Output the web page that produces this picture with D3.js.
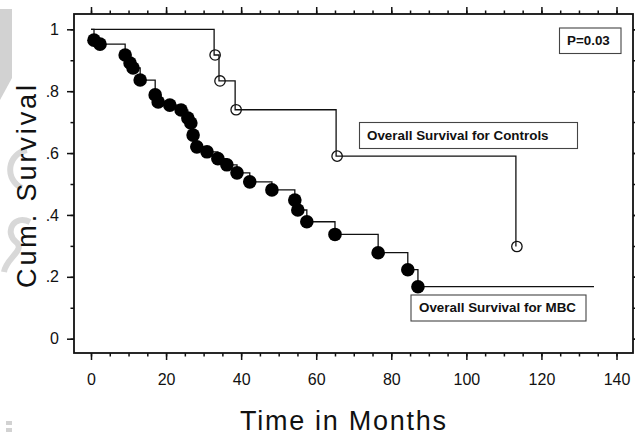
<html>
<head>
<meta charset="utf-8">
<title>Kaplan-Meier survival, MBC vs controls</title>
<script src="https://d3js.org/d3.v7.min.js"></script>
<style>
    body {
        margin: 0;
        padding: 0;
        background: #fff;
    }
    svg text {
        font-family: "Liberation Sans", Arial, Helvetica, sans-serif;
    }
    .tick text {
        font-size: 16px;
        fill: #111;
    }
    .tick line {
        stroke: #111;
        stroke-width: 1.5;
    }
    .note {
        font-weight: bold;
        font-size: 13.4px;
        fill: #111;
    }
</style>
</head>
<body>
<script>
    // event times (months) and cumulative survival
    var mbcTimes = [0.8, 2.4, 9.1, 10.4, 11.2, 13.1, 17.1, 17.9, 21.0, 24.0, 25.8, 26.6, 27.2, 28.2,
                    30.9, 33.8, 36.2, 38.9, 42.3, 48.2, 54.3, 55.1, 57.5, 65.0, 76.5, 84.4, 87.1];
    var mbcSurv  = [0.965, 0.952, 0.917, 0.891, 0.875, 0.836, 0.788, 0.765, 0.755, 0.739, 0.713, 0.697, 0.658, 0.620,
                    0.604, 0.582, 0.562, 0.536, 0.507, 0.481, 0.448, 0.416, 0.378, 0.337, 0.278, 0.223, 0.168];
    var mbcEnd = 134;

    var ctrlTimes = [32.8, 34.1, 38.4, 65.3, 113.2];
    var ctrlSurv  = [0.917, 0.833, 0.740, 0.590, 0.298];

    var xMajor = [0, 20, 40, 60, 80, 100, 120, 140];
    var xMinor = d3.range(0, 141, 5);
    var yMajor = [0, 0.2, 0.4, 0.6, 0.8, 1];
    var yTickLabels = ["0", ".2", ".4", ".6", ".8", "1"];
    var yMinor = d3.range(0, 1.01, 0.1);

    var pLabel = "P=0.03";
    var ctrlLabel = "Overall Survival for Controls";
    var mbcLabel = "Overall Survival for MBC";

    var w = 635, h = 436;
    var frame = {left: 74, right: 633, top: 14, bottom: 353};

    var x = d3.scaleLinear().domain([0, 140]).range([91, 616.5]);
    var y = d3.scaleLinear().domain([0, 1]).range([338.7, 29.3]);

    var svg = d3.select("body").append("svg")
                .attr("width", w)
                .attr("height", h);

    // faint grey watermark remnants on the left edge
    var wm = svg.append("g").attr("fill", "none").attr("stroke", "#d8d8d8");
    wm.append("path").attr("d", "M0,9 L12,9 L12,78 L0,100 Z").attr("fill", "#d2d2d2").attr("stroke", "none");
    wm.append("path").attr("d", "M27,150 A20,20 0 0 0 22,188").attr("stroke-width", 6);
    wm.append("path").attr("d", "M30,222 C14,214 4,232 16,242 C26,250 6,258 4,272").attr("stroke-width", 6);
    wm.append("rect").attr("x", 6).attr("y", 421).attr("width", 6).attr("height", 4).attr("fill", "#d2d2d2").attr("stroke", "none");
    wm.append("rect").attr("x", 6).attr("y", 428).attr("width", 6).attr("height", 4).attr("fill", "#d2d2d2").attr("stroke", "none");

    // axes: majors with labels, minors without
    function axisG(axis, tx, ty) {
        var g = svg.append("g").attr("transform", "translate(" + tx + "," + ty + ")").call(axis);
        g.select(".domain").remove();
        return g;
    }
    axisG(d3.axisBottom(x).tickValues(xMinor).tickSize(3.5).tickFormat(""), 0, frame.bottom);
    axisG(d3.axisBottom(x).tickValues(xMajor).tickSize(7).tickPadding(13.5).tickFormat(d3.format("d")), 0, frame.bottom);
    axisG(d3.axisTop(x).tickValues(xMinor).tickSize(3.5).tickFormat(""), 0, frame.top);
    axisG(d3.axisTop(x).tickValues(xMajor).tickSize(7).tickFormat(""), 0, frame.top);

    axisG(d3.axisLeft(y).tickValues(yMinor).tickSize(3.5).tickFormat(""), frame.left, 0);
    axisG(d3.axisLeft(y).tickValues(yMajor).tickSize(7).tickPadding(8)
            .tickFormat(function(d, i) { return yTickLabels[i]; }), frame.left, 0);
    axisG(d3.axisRight(y).tickValues(yMinor).tickSize(3.5).tickFormat(""), frame.right, 0);
    axisG(d3.axisRight(y).tickValues(yMajor).tickSize(7).tickFormat(""), frame.right, 0);

    svg.append("rect")
        .attr("x", frame.left).attr("y", frame.top)
        .attr("width", frame.right - frame.left)
        .attr("height", frame.bottom - frame.top)
        .attr("fill", "none")
        .attr("stroke", "#111")
        .attr("stroke-width", 1.8);

    // step curves
    var line = d3.line()
                 .x(function(d) { return x(d[0]); })
                 .y(function(d) { return y(d[1]); })
                 .curve(d3.curveStepAfter);

    var mbcPts = [[0, 1]].concat(mbcTimes.map(function(t, i) { return [t, mbcSurv[i]]; }));
    mbcPts.push([mbcEnd, mbcSurv[mbcSurv.length - 1]]);
    var ctrlPts = [[0, 1]].concat(ctrlTimes.map(function(t, i) { return [t, ctrlSurv[i]]; }));

    svg.append("path").datum(ctrlPts).attr("d", line)
        .attr("fill", "none").attr("stroke", "#111").attr("stroke-width", 1.3);
    svg.append("path").datum(mbcPts).attr("d", line)
        .attr("fill", "none").attr("stroke", "#111").attr("stroke-width", 1.3);

    svg.selectAll(".ctrl").data(ctrlTimes).enter().append("circle")
        .attr("class", "ctrl")
        .attr("cx", function(d) { return x(d) + 1; })
        .attr("cy", function(d, i) { return y(ctrlSurv[i]); })
        .attr("r", 5.2)
        .attr("fill", "none")
        .attr("stroke", "#111")
        .attr("stroke-width", 1.3);

    svg.selectAll(".mbc").data(mbcTimes).enter().append("circle")
        .attr("class", "mbc")
        .attr("cx", function(d) { return x(d); })
        .attr("cy", function(d, i) { return y(mbcSurv[i]); })
        .attr("r", 6.8)
        .attr("fill", "#000");

    // annotation boxes
    function noteBox(x0, y0, bw, bh, tx, ty, txt) {
        svg.append("rect").attr("x", x0).attr("y", y0).attr("width", bw).attr("height", bh)
            .attr("fill", "#fff").attr("stroke", "#444").attr("stroke-width", 1.1);
        svg.append("text").attr("class", "note").attr("x", tx).attr("y", ty).text(txt);
    }
    noteBox(559.5, 28, 61.5, 25.5, 567, 44.5, pLabel);
    noteBox(359.5, 122.5, 218, 26, 367, 139.5, ctrlLabel);
    noteBox(411, 295, 175, 26, 419, 312, mbcLabel);

    // axis titles
    svg.append("text")
        .attr("x", 343).attr("y", 430)
        .attr("text-anchor", "middle")
        .attr("font-size", 27)
        .attr("textLength", 206)
        .attr("lengthAdjust", "spacing")
        .attr("fill", "#111")
        .text("Time in Months");

    svg.append("text")
        .attr("transform", "translate(36,186.5) rotate(-90)")
        .attr("text-anchor", "middle")
        .attr("font-size", 27)
        .attr("textLength", 203)
        .attr("lengthAdjust", "spacing")
        .attr("fill", "#111")
        .text("Cum. Survival");
</script>
</body>
</html>
